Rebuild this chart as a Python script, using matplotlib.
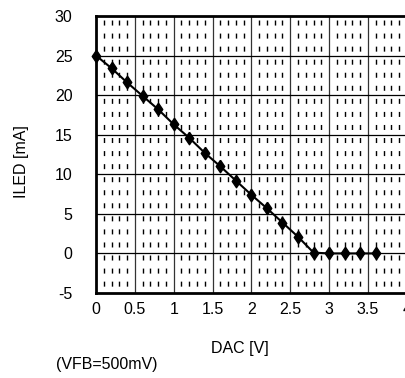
from matplotlib import pyplot as plt
import numpy as np

# DAC voltage [V] and LED current [mA]
dac = [0.0, 0.2, 0.4, 0.6, 0.8, 1.0, 1.2, 1.4, 1.6, 1.8,
       2.0, 2.2, 2.4, 2.6, 2.8, 3.0, 3.2, 3.4, 3.6]
iled = [25.0, 23.4, 21.6, 19.9, 18.2, 16.3, 14.6, 12.7, 11.0, 9.2,
        7.4, 5.7, 3.9, 2.1, 0.1, 0.0, 0.0, 0.0, 0.0]

x_ticks = [0, 0.5, 1, 1.5, 2, 2.5, 3, 3.5, 4]
x_labels = ['0', '0.5', '1', '1.5', '2', '2.5', '3', '3.5', '4']
y_ticks = [-5, 0, 5, 10, 15, 20, 25, 30]

plt.rcParams['font.family'] = ['Liberation Sans', 'DejaVu Sans']
plt.rcParams['axes.unicode_minus'] = False

fig = plt.figure(figsize=(4.06, 3.78), dpi=100)
ax = fig.add_axes([96 / 406, 1 - 293 / 378, 1 - 96 / 406 + 0.002, (293 - 16) / 378])

ax.set_xlim(0, 4)
ax.set_ylim(-5, 30)

# minor dashed verticals every 0.1
for i in range(1, 40):
    if i % 5 == 0:
        continue
    ax.plot([i / 10, i / 10], [30, -5], color='black', lw=1.0,
            linestyle=(6.5, (3.6, 5.8)), zorder=1)

# major grid
for xv in x_ticks[1:]:
    ax.axvline(xv, color='#333333', lw=0.9, zorder=1)
for yv in y_ticks[1:-1]:
    ax.axhline(yv, color='black', lw=0.9, zorder=1)

# diamond a bit taller than wide
diamond = [(0, 1), (0.68, 0), (0, -1), (-0.68, 0), (0, 1)]
ax.plot(dac, iled, color='black', lw=1.5, marker=diamond, markersize=9,
        markerfacecolor='black', markeredgecolor='black', zorder=3, clip_on=False)

ax.set_xticks(x_ticks)
ax.set_xticklabels(x_labels)
ax.set_yticks(y_ticks)
ax.tick_params(axis='both', length=0, labelsize=11.5)
ax.tick_params(axis='x', pad=6.5)
ax.tick_params(axis='y', pad=17)

for s in ['top', 'left', 'bottom']:
    ax.spines[s].set_linewidth(2)
ax.spines['right'].set_visible(False)

fig.text(22 / 406, 1 - 162 / 378, 'ILED [mA]', rotation=90, ha='center', va='center', fontsize=11.5)
fig.text(240 / 406, 1 - 349 / 378, 'DAC [V]', ha='center', va='center', fontsize=11.5)
fig.text(107 / 406, 1 - 365 / 378, '(VFB=500mV)', ha='center', va='center', fontsize=11.5)

fig.savefig('out.png', dpi=100)
